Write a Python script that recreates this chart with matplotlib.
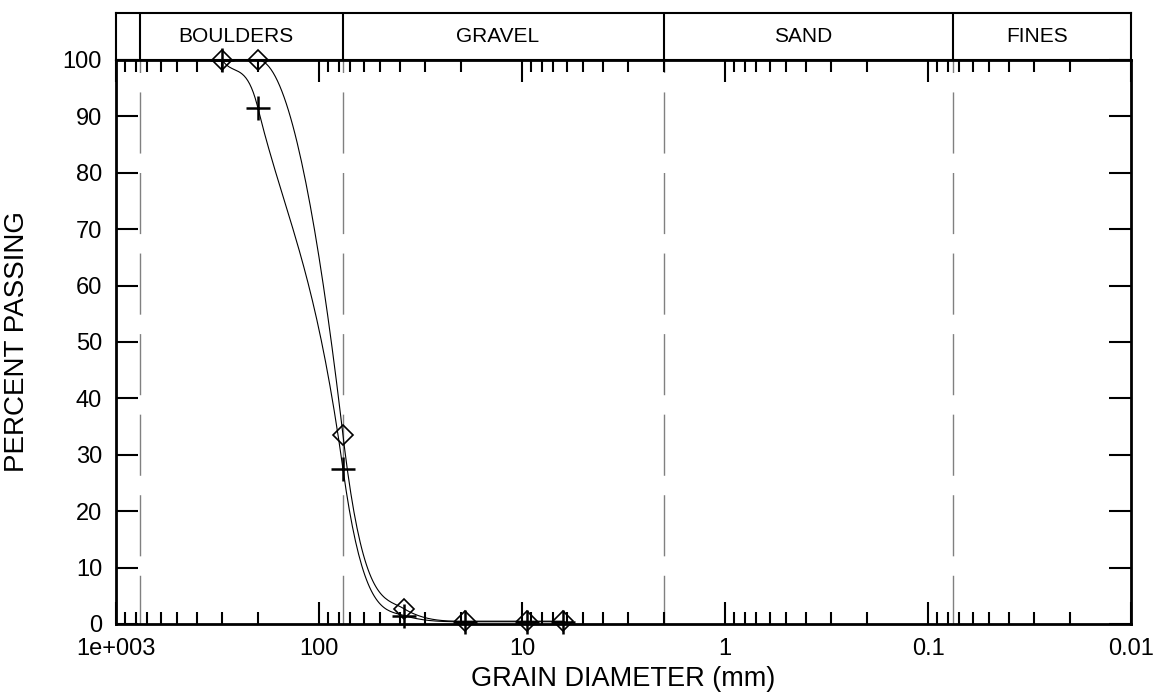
import numpy as np
import matplotlib
matplotlib.use('Agg')
import matplotlib.pyplot as plt
from matplotlib.ticker import FixedLocator, FixedFormatter, LogLocator, NullFormatter

plt.rcParams['font.family'] = ['Liberation Sans', 'DejaVu Sans']
plt.rcParams['lines.scale_dashes'] = False

# sieve sizes (mm) and percent passing for the two samples
sieve_mm = [300, 200, 76.2, 38.1, 19.05, 9.5, 6.3]
pass_diamond = [100, 100, 33.5, 2.7, 0.5, 0.5, 0.5]
pass_plus = [100, 91.5, 27.5, 1.5, 0.4, 0.4, 0.4]

# soil classes along the top
zone_edges = [1000, 762, 76.2, 2, 0.075, 0.01]
zone_names = ['', 'BOULDERS', 'GRAVEL', 'SAND', 'FINES']

xticks = [1000, 100, 10, 1, 0.1, 0.01]
xtick_labels = ['1e+003', '100', '10', '1', '0.1', '0.01']
yticks = list(range(0, 101, 10))


def smooth_curve(x, y, n=40):
    # monotone cubic hermite in log(diameter), steep tangents (Fritsch-Carlson limit)
    u = -np.log10(np.asarray(x, float))
    y = np.asarray(y, float)
    k = len(u)
    h = np.diff(u)
    d = np.diff(y) / h
    m = np.zeros(k)
    for i in range(1, k - 1):
        if d[i - 1] * d[i] > 0:
            w1 = 2 * h[i] + h[i - 1]
            w2 = h[i] + 2 * h[i - 1]
            pch = (w1 + w2) / (w1 / d[i - 1] + w2 / d[i])
            lim = 3 * min(abs(d[i - 1]), abs(d[i]))
            m[i] = np.sign(pch) * min(3 * abs(pch), lim)
    for j, (h0, h1, d0, d1) in ((0, (h[0], h[1], d[0], d[1])),
                               (k - 1, (h[-1], h[-2], d[-1], d[-2]))):
        e = ((2 * h0 + h1) * d0 - h0 * d1) / (h0 + h1)
        if np.sign(e) != np.sign(d0):
            e = 0.0
        m[j] = np.sign(e) * min(3 * abs(e), 3 * abs(d0))
    us, ys = [], []
    for i in range(k - 1):
        t = np.linspace(0, 1, n)
        h00 = 2 * t ** 3 - 3 * t ** 2 + 1
        h10 = t ** 3 - 2 * t ** 2 + t
        h01 = -2 * t ** 3 + 3 * t ** 2
        h11 = t ** 3 - t ** 2
        us.append(u[i] + t * h[i])
        ys.append(h00 * y[i] + h10 * h[i] * m[i] + h01 * y[i + 1] + h11 * h[i] * m[i + 1])
    return 10 ** (-np.concatenate(us)), np.concatenate(ys)


fig = plt.figure(figsize=(11.59, 6.94), dpi=100)
band = fig.add_axes([116 / 1159, 1 - 60 / 694, 1015 / 1159, 47 / 694])
ax = fig.add_axes([116 / 1159, 1 - 624 / 694, 1015 / 1159, 564 / 694])
ax.patch.set_visible(False)
band.patch.set_visible(False)

for a_ in (ax, band):
    a_.set_xscale('log')
    a_.set_xlim(1000, 0.01)

ax.set_ylim(0, 100)

# zone boundaries: dashed in the plot, solid in the header
for e in zone_edges[1:-1]:
    ax.plot([e, e], [100, 0], color='#808080', lw=1.0, ls=(35, (44, 14)), zorder=1)
    band.axvline(e, color='black', lw=1.5)

for i, name in enumerate(zone_names):
    if name:
        mid = np.sqrt(zone_edges[i] * zone_edges[i + 1])
        band.annotate(name, (mid, 0.5), xycoords=band.get_xaxis_transform(),
                      xytext=(-4, 0), textcoords='offset points',
                      ha='center', va='center', fontsize=15)

band.set_ylim(0, 1)
band.set_xticks([])
band.set_yticks([])
band.xaxis.set_minor_locator(matplotlib.ticker.NullLocator())
for s in band.spines.values():
    s.set_linewidth(1.5)

xd, yd = smooth_curve(sieve_mm, pass_diamond)
xp, yp = smooth_curve(sieve_mm, pass_plus)
ax.plot(xd, yd, color='black', lw=0.8, zorder=2)
ax.plot(xp, yp, color='black', lw=0.8, zorder=2)
ax.plot(sieve_mm, pass_diamond, ls='none', marker='D', ms=10.5, mfc='none',
        mec='black', mew=1.2, clip_on=False, zorder=3)
ax.plot(sieve_mm, pass_plus, ls='none', marker='+', ms=17, mec='black',
        mew=1.8, clip_on=False, zorder=3)

ax.xaxis.set_major_locator(FixedLocator(xticks))
ax.xaxis.set_major_formatter(FixedFormatter(xtick_labels))
ax.xaxis.set_minor_locator(LogLocator(base=10, subs=range(2, 10), numticks=20))
ax.xaxis.set_minor_formatter(NullFormatter())
ax.set_yticks(yticks)

ax.tick_params(which='major', direction='in', length=16, width=1.5, top=True,
               right=True, labelsize=17, pad=10)
ax.tick_params(which='minor', direction='in', length=8.5, width=1.5, top=True)
for s in ax.spines.values():
    s.set_linewidth(2)

ax.set_xlabel('GRAIN DIAMETER (mm)', fontsize=19.5, va='center')
ax.set_ylabel('PERCENT PASSING', fontsize=20, va='center')
ax.xaxis.set_label_coords(0.5, (624 - 679) / 564)
ax.yaxis.set_label_coords((17 - 116) / 1015, 0.5)

fig.savefig('out.png', dpi=100)
